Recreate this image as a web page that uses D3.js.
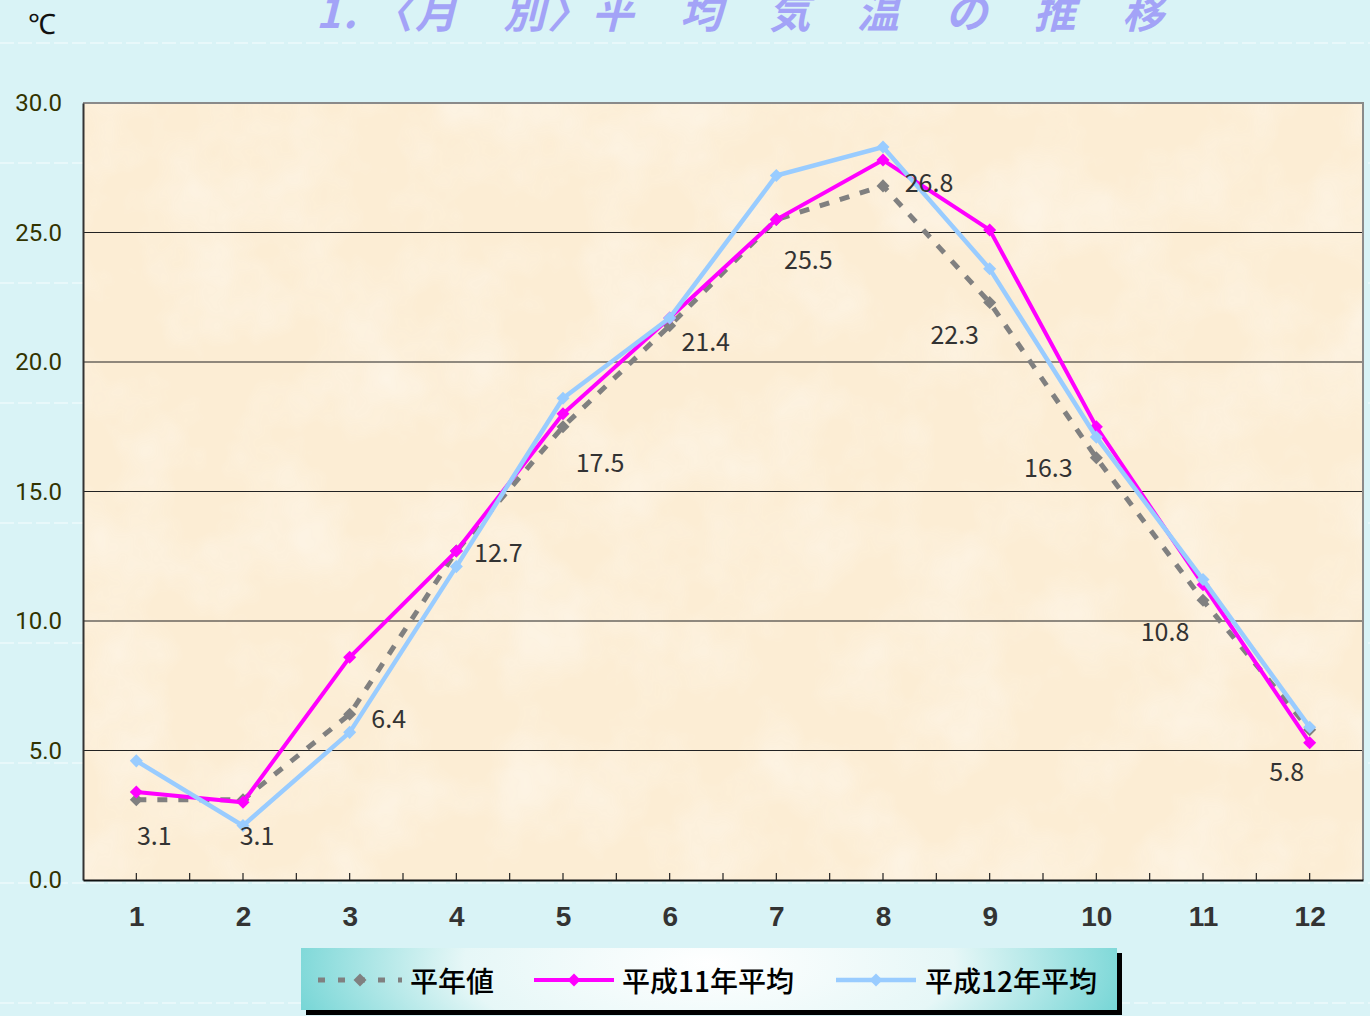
<!DOCTYPE html>
<html>
<head>
<meta charset="utf-8">
<script src="https://cdn.jsdelivr.net/npm/d3@7/dist/d3.min.js"></script>
<style>
  html, body { margin: 0; padding: 0; background: #d9f3f6; overflow: hidden; }
  svg { display: block; }
</style>
</head>
<body>
<svg id="chart" width="1370" height="1016"></svg>
<script>
// ---------------- data ----------------
const months = ["1","2","3","4","5","6","7","8","9","10","11","12"];
const normalValues = [3.1, 3.1, 6.4, 12.7, 17.5, 21.4, 25.5, 26.8, 22.3, 16.3, 10.8, 5.8];
const h11Values = [3.4, 3.0, 8.6, 12.7, 18.0, 21.7, 25.5, 27.8, 25.1, 17.5, 11.4, 5.3];
const h12Values = [4.6, 2.1, 5.7, 12.1, 18.6, 21.7, 27.2, 28.3, 23.6, 17.1, 11.6, 5.9];
const yTicks = [0, 5, 10, 15, 20, 25, 30];
const seriesNames = ["平年値", "平成11年平均", "平成12年平均"];
const titleText = "1. 〈月　別〉平　均　気　温　の　推　移";
const unitText = "℃";

// ---------------- layout ----------------
const svg = d3.select("#chart");
const W = 1370, H = 1016;
const plot = { left: 83, right: 1363, top: 103, bottom: 880 };

const x = d3.scalePoint().domain(months).range([plot.left, plot.right]).padding(0.5);
const y = d3.scaleLinear().domain([0, 30]).range([plot.bottom, plot.top]);

const defs = svg.append("defs");

// paper texture for plot area
const tex = defs.append("filter").attr("id", "paper").attr("x", 0).attr("y", 0).attr("width", 1).attr("height", 1);
tex.append("feTurbulence").attr("type", "fractalNoise").attr("baseFrequency", "0.012").attr("numOctaves", 4).attr("seed", 7).attr("result", "n");
tex.append("feColorMatrix").attr("in", "n").attr("type", "matrix")
  .attr("values", "0 0 0 0 1  0 0 0 0 1  0 0 0 0 1  0 0 0 0.9 -0.35").attr("result", "a");
tex.append("feComposite").attr("in", "a").attr("in2", "SourceGraphic").attr("operator", "in");

// legend gradient
const lg = defs.append("radialGradient").attr("id", "legGrad")
  .attr("cx", "50%").attr("cy", "45%").attr("r", "60%")
  .attr("gradientTransform", "translate(0.5,0.5) scale(1,5) translate(-0.5,-0.5)");
lg.append("stop").attr("offset", "0%").attr("stop-color", "#ffffff");
lg.append("stop").attr("offset", "50%").attr("stop-color", "#e6f7f7");
lg.append("stop").attr("offset", "100%").attr("stop-color", "#4fcaca");

// ---------------- background ----------------
svg.append("rect").attr("width", W).attr("height", H).attr("fill", "#d9f3f6");

// faint horizontal dashed pattern lines
const bgLines = d3.range(43, H, 120);
svg.append("g").selectAll("line").data(bgLines).join("line")
  .attr("x1", 0).attr("x2", W).attr("y1", d => d).attr("y2", d => d)
  .attr("stroke", "#ffffff").attr("stroke-opacity", 0.55).attr("stroke-width", 1.5)
  .attr("stroke-dasharray", "14,4");

// ---------------- plot area ----------------
svg.append("rect").attr("x", plot.left).attr("y", plot.top)
  .attr("width", plot.right - plot.left).attr("height", plot.bottom - plot.top)
  .attr("fill", "#fcedd4");
svg.append("rect").attr("x", plot.left).attr("y", plot.top)
  .attr("width", plot.right - plot.left).attr("height", plot.bottom - plot.top)
  .attr("fill", "#fcedd4").attr("filter", "url(#paper)").attr("opacity", 0.8);

// gridlines
svg.append("g").selectAll("line").data(yTicks.filter(d => d > 0 && d < 30)).join("line")
  .attr("x1", plot.left).attr("x2", plot.right)
  .attr("y1", d => y(d)).attr("y2", d => y(d))
  .attr("stroke", "#222").attr("stroke-width", 1.2);

// top & right frame
svg.append("path")
  .attr("d", `M${plot.left},${plot.top}H${plot.right}V${plot.bottom}`)
  .attr("fill", "none").attr("stroke", "#8a8a8a").attr("stroke-width", 2);

// y axis
const yAxis = d3.axisLeft(y).tickValues(yTicks).tickFormat(d3.format(".1f")).tickSize(0).tickPadding(21);
const gy = svg.append("g").attr("transform", `translate(${plot.left},0)`).call(yAxis);
gy.select(".domain").attr("stroke", "#333").attr("stroke-width", 2);
gy.selectAll("text").attr("font-family", "Roboto, 'Liberation Sans', sans-serif")
  .attr("font-size", 24).attr("fill", "#333300");

// x axis
const xAxis = d3.axisBottom(x).tickSize(0).tickPadding(26);
const gx = svg.append("g").attr("transform", `translate(0,${plot.bottom})`).call(xAxis);
gx.select(".domain").attr("stroke", "#111").attr("stroke-width", 2);
gx.selectAll("text").attr("font-family", "'Liberation Sans Narrow', 'Liberation Sans', sans-serif")
  .attr("font-weight", "bold").attr("font-size", 28).attr("fill", "#333");

// inward minor ticks at each category and boundary
const step = x.step();
const tickXs = [];
months.forEach(m => { tickXs.push(x(m)); tickXs.push(x(m) + step / 2); });
svg.append("g").selectAll("line").data(tickXs.filter(v => v < plot.right - 1)).join("line")
  .attr("x1", d => d).attr("x2", d => d)
  .attr("y1", plot.bottom).attr("y2", plot.bottom - 7)
  .attr("stroke", "#222").attr("stroke-width", 1.2);

// ---------------- series ----------------
const series = [
  { name: seriesNames[0], values: normalValues, color: "#808080", width: 5, dash: "10,11" },
  { name: seriesNames[1], values: h11Values, color: "#ff00ff", width: 4, dash: null },
  { name: seriesNames[2], values: h12Values, color: "#99ccff", width: 4.5, dash: null }
];

const line = d3.line().x((d, i) => x(months[i])).y(d => y(d));

series.forEach(s => {
  const g = svg.append("g");
  g.append("path").datum(s.values).attr("d", line)
    .attr("fill", "none").attr("stroke", s.color).attr("stroke-width", s.width)
    .attr("stroke-dasharray", s.dash).attr("stroke-linejoin", "miter");
  g.selectAll("path.m").data(s.values).join("path").attr("class", "m")
    .attr("d", d3.symbol().type(d3.symbolSquare).size(85))
    .attr("transform", (d, i) => `translate(${x(months[i])},${y(d)}) rotate(45)`)
    .attr("fill", s.color);
});

// data labels for normal series
const labelDx = [18, 14, 39, 42, 37, 36, 32, 46, -35, -48, -38, -23];
const labelDy = [34, 34, 3, 0, 34, 14, 38, -5, 31, 8, 30, 40];
svg.append("g").selectAll("text").data(normalValues).join("text")
  .attr("x", (d, i) => x(months[i]) + labelDx[i])
  .attr("y", (d, i) => y(d) + labelDy[i])
  .attr("text-anchor", "middle").attr("dominant-baseline", "central")
  .attr("font-family", "'Noto Sans CJK JP', sans-serif").attr("font-size", 25)
  .attr("fill", "#333")
  .text(d => d3.format(".1f")(d));

// ---------------- title & unit ----------------
svg.append("text").attr("x", 316).attr("y", 28)
  .attr("font-family", "'Noto Sans CJK JP', sans-serif").attr("font-size", 42)
  .attr("font-weight", "bold").attr("font-style", "italic")
  .attr("fill", "#a3a3f7").attr("letter-spacing", 2.2)
  .text(titleText);

svg.append("text").attr("x", 28).attr("y", 34)
  .attr("font-family", "'Liberation Sans', sans-serif").attr("font-size", 28)
  .attr("fill", "#111").text(unitText);

// ---------------- legend ----------------
const leg = { x: 301, y: 948, w: 816, h: 62 };
const gl = svg.append("g");
gl.append("rect").attr("x", leg.x + 5).attr("y", leg.y + 5).attr("width", leg.w).attr("height", leg.h).attr("fill", "#000");
gl.append("rect").attr("x", leg.x).attr("y", leg.y).attr("width", leg.w).attr("height", leg.h).attr("fill", "url(#legGrad)");

const legItems = [
  { s: series[0], x0: 318, x1: 402, tx: 410 },
  { s: series[1], x0: 534, x1: 614, tx: 622 },
  { s: series[2], x0: 836, x1: 916, tx: 925 }
];
const ly = 980;
legItems.forEach(it => {
  gl.append("line").attr("x1", it.x0).attr("x2", it.x1).attr("y1", ly).attr("y2", ly)
    .attr("stroke", it.s.color).attr("stroke-width", it.s.width)
    .attr("stroke-dasharray", it.s.dash ? "7,13" : null);
  gl.append("path").attr("d", d3.symbol().type(d3.symbolSquare).size(85))
    .attr("transform", `translate(${(it.x0 + it.x1) / 2},${ly}) rotate(45)`)
    .attr("fill", it.s.color);
  gl.append("text").attr("x", it.tx).attr("y", ly).attr("dominant-baseline", "central")
    .attr("font-family", "'Noto Sans CJK JP', sans-serif").attr("font-size", 28)
    .attr("font-weight", 500)
    .attr("fill", "#000").text(it.s.name);
});
</script>
</body>
</html>
